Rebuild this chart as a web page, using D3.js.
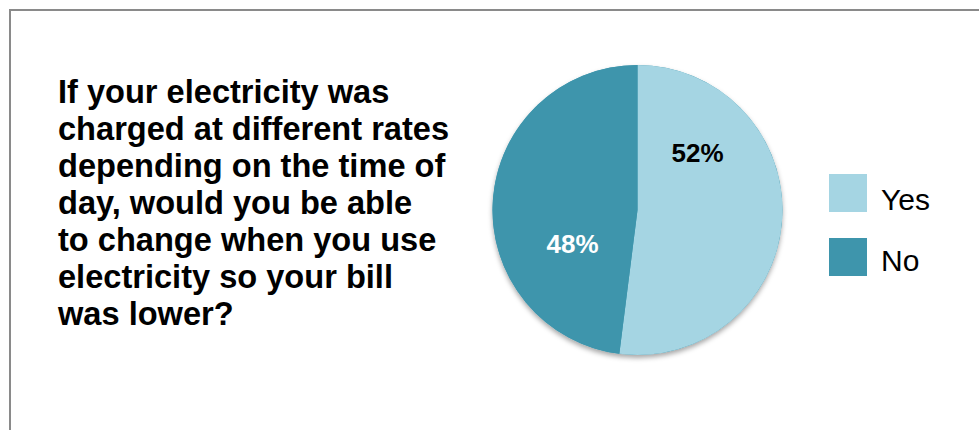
<!DOCTYPE html>
<html><head><meta charset="utf-8">
<script src="https://cdn.jsdelivr.net/npm/d3@7"></script>
<style>html,body{margin:0;padding:0;background:#fff;overflow:hidden}</style>
</head><body>
<svg id="c" width="979" height="430"></svg>
<script>
const categories = ["Yes", "No"];
const values = [52, 48];
const colors = ["#A5D5E3", "#3E95AC"];
const labelColors = ["#000000", "#ffffff"];
const titleLines = [
  "If your electricity was",
  "charged at different rates",
  "depending on the time of",
  "day, would you be able",
  "to change when you use",
  "electricity so your bill",
  "was lower?"
];

const svg = d3.select("#c");
const font = "'Liberation Sans', Arial, Helvetica, sans-serif";

const defs = svg.append("defs");
const f = defs.append("filter").attr("id","sh").attr("x","-20%").attr("y","-20%").attr("width","140%").attr("height","140%");
f.append("feDropShadow").attr("dx",0).attr("dy",3).attr("stdDeviation",2.5).attr("flood-color","#000").attr("flood-opacity",0.35);

// frame
svg.append("rect").attr("x",10).attr("y",10).attr("width",1000).attr("height",460)
  .attr("fill","#fff").attr("stroke","#8a8a8a").attr("stroke-width",2);

// title
const t = svg.append("text").attr("font-family",font).attr("font-weight","bold")
  .attr("font-size",32.6).attr("fill","#000");
titleLines.forEach((l,i)=>{
  t.append("tspan").attr("x",58).attr("y",102.5 + i*37).text(l);
});

// pie
const cx = 637.5, cy = 210, r = 145;
const pie = d3.pie().sort(null).value(d=>d)(values);
const arc = d3.arc().innerRadius(0).outerRadius(r);
const g = svg.append("g").attr("transform",`translate(${cx},${cy})`);
g.append("circle").attr("r",r).attr("fill","#3E95AC").attr("filter","url(#sh)");
g.selectAll("path").data(pie).join("path")
  .attr("d",arc).attr("fill",(d,i)=>colors[i]);

const labelPos = [[60,-48],[-65,43]];
g.selectAll("text.l").data(pie).join("text").attr("class","l")
  .attr("x",(d,i)=>labelPos[i][0]).attr("y",(d,i)=>labelPos[i][1])
  .attr("text-anchor","middle").attr("font-family",font).attr("font-weight","bold")
  .attr("font-size",26).attr("fill",(d,i)=>labelColors[i])
  .text(d=>d.data+"%");

// legend
const lg = svg.append("g");
categories.forEach((c,i)=>{
  lg.append("rect").attr("x",829).attr("y",174 + i*64).attr("width",38).attr("height",38).attr("fill",colors[i]);
  lg.append("text").attr("x",881).attr("y",210 + i*61).attr("font-family",font)
    .attr("font-size",30).attr("fill","#000").text(c);
});
</script>
</body></html>
